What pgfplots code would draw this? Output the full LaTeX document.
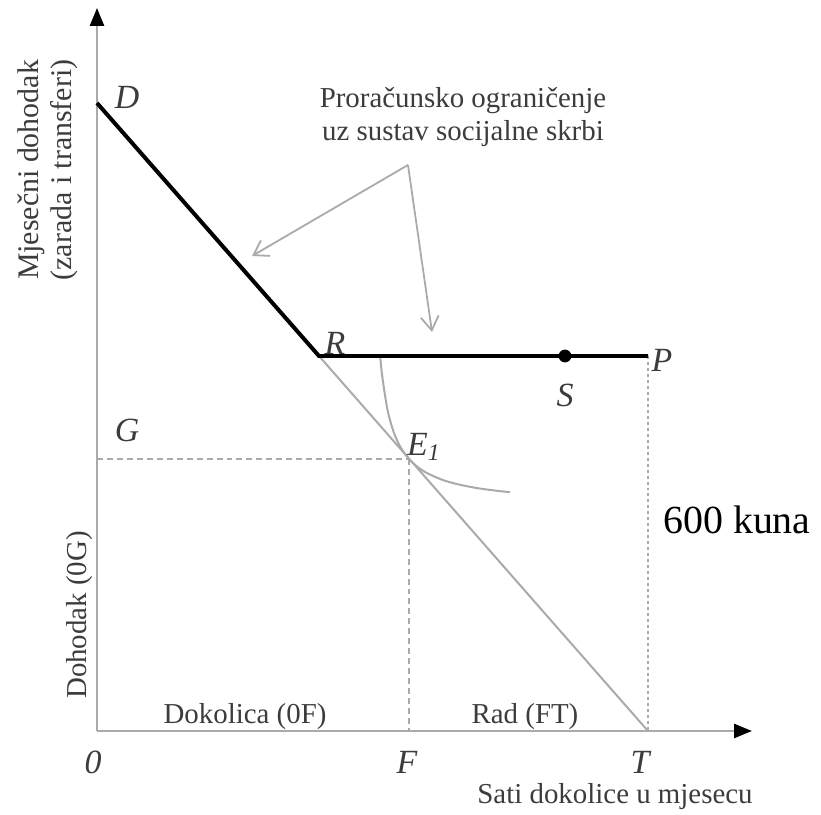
\documentclass[border=0pt]{standalone}
\usepackage{pgfplots}
\pgfplotsset{compat=1.18}
\usepackage{fontspec}
\setmainfont{Liberation Serif}
\usetikzlibrary{arrows.meta}
\definecolor{lg}{RGB}{170,170,170}
\definecolor{dg}{RGB}{60,60,60}
\begin{document}
\begin{tikzpicture}
\begin{axis}[
  x=0.5bp, y=0.5bp,
  xmin=0, xmax=655, ymin=0, ymax=723,
  axis lines=left,
  axis line style={lg, line width=1.3pt, -{Triangle[length=9pt,width=7pt,color=black,fill=black]}},
  xtick=\empty, ytick=\empty,
  clip=false,
]
% helper coordinates for the bounding box
\coordinate (bl) at (axis cs:-97,-84);
\coordinate (tr) at (axis cs:724,731);
% gray budget line R-T
\addplot[lg, line width=1pt] coordinates {(222,375) (551,0)};
% dashed guides
\addplot[lg, dashed, line width=0.8pt, dash pattern=on 3pt off 2pt] coordinates {(0,272) (312,272)};
\addplot[lg, dashed, line width=0.8pt, dash pattern=on 3pt off 2pt] coordinates {(312,272) (312,0)};
\addplot[lg, line width=0.8pt, dash pattern=on 1.5pt off 1.5pt] coordinates {(551,375) (551,0)};
% indifference curve
\addplot[lg, line width=1pt, smooth] coordinates {
(283,376.8) (285,356.6) (290,323.7) (295,304.0) (300,290.8) (305,281.4) (312,272.0)
(320,264.5) (330,257.9) (345,251.3) (360,246.9) (380,242.9) (400,240.2) (413,238.8)};
% budget constraint with welfare
\addplot[black, line width=2pt] coordinates {(0,628) (222,375) (551,375)};
\addplot[only marks, mark=*, mark size=3bp, black] coordinates {(468,375)};
% annotation arrows
\draw[lg, line width=0.9pt, -{Straight Barb[length=7pt,width=9pt]}] (axis cs:311,566) -- (axis cs:155,475);
\draw[lg, line width=0.9pt, -{Straight Barb[length=7pt,width=9pt]}] (axis cs:311,566) -- (axis cs:335,399);
% labels
\node[dg, font=\fontsize{17}{20}\selectfont\itshape] at (axis cs:30,634) {D};
\node[dg, font=\fontsize{17}{20}\selectfont\itshape] at (axis cs:238,388) {R};
\node[dg, font=\fontsize{17}{20}\selectfont\itshape] at (axis cs:565,371) {P};
\node[dg, font=\fontsize{17}{20}\selectfont\itshape] at (axis cs:468,336) {S};
\node[dg, font=\fontsize{17}{20}\selectfont\itshape] at (axis cs:327,284) {E\textsubscript{1}};
\node[dg, font=\fontsize{17}{20}\selectfont\itshape] at (axis cs:30,301) {G};
\node[dg, font=\fontsize{17}{20}\selectfont\itshape] at (axis cs:-4,-31) {0};
\node[dg, font=\fontsize{17}{20}\selectfont\itshape] at (axis cs:310,-31) {F};
\node[dg, font=\fontsize{17}{20}\selectfont\itshape] at (axis cs:543,-31) {T};
\node[dg, font=\fontsize{14.5}{17}\selectfont] at (axis cs:518,-66) {Sati dokolice u mjesecu};
\node[dg, font=\fontsize{14.5}{17}\selectfont] at (axis cs:148,14) {Dokolica (0F)};
\node[dg, font=\fontsize{14.5}{17}\selectfont] at (axis cs:428,14) {Rad (FT)};
\node[dg, font=\fontsize{14.5}{17}\selectfont, rotate=90] at (axis cs:-17,116) {Dohodak (0G)};
\node[dg, font=\fontsize{15}{16.5}\selectfont, rotate=90, align=center] at (axis cs:-49,561) {Mjesečni dohodak\\(zarada i transferi)};
\node[dg, font=\fontsize{14.5}{16.5}\selectfont, align=center] at (axis cs:366,614) {Proračunsko ograničenje\\uz sustav socijalne skrbi};
\node[black, font=\fontsize{20}{24}\selectfont] at (axis cs:640,211) {600 kuna};
\end{axis}
\pgfresetboundingbox
\path (bl) rectangle (tr);
\end{tikzpicture}
\end{document}
